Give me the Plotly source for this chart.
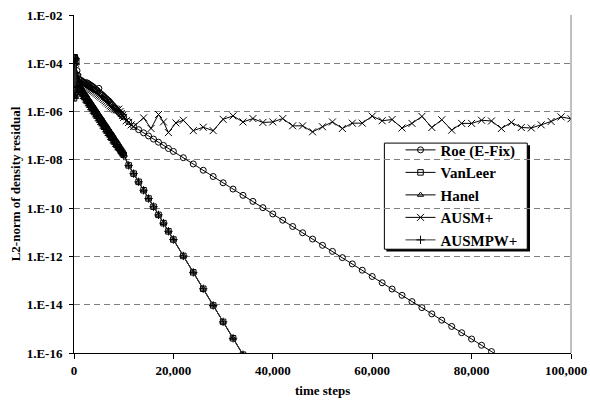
import plotly.graph_objects as go

# ---------------- data (values given as log10 of the L2 norm) ----------------
early_x = [0, 150, 300, 450, 600, 750, 1000, 1250, 1500, 1750, 2000, 2250, 2500, 2750, 3000,
           3250, 3500, 3750, 4000, 4250, 4500, 4750, 5000, 5250, 5500, 5750, 6000, 6250, 6500,
           6750, 7000, 7250, 7500, 7750, 8000, 8250, 8500, 8750, 9000, 9250, 9500, 9750, 10000]

roe_x = early_x + [11000, 12000, 13000, 14000, 15000, 16000, 17000, 18000, 19000, 20000,
                   22000, 24000, 26000, 28000, 30000, 32000, 34000, 36000, 38000, 40000,
                   42000, 44000, 46000, 48000, 50000, 52000, 54000, 56000, 58000, 60000,
                   62000, 64000, 66000, 68000, 70000, 72000, 74000, 76000, 78000, 80000,
                   82000, 84000, 86000]
roe_log = [-3.75, -5.30, -3.80, -4.60, -4.30, -4.50, -4.65, -4.70, -4.72, -4.76, -4.80, -4.84,
           -4.80, -4.83, -4.86, -4.90, -4.93, -4.97, -5.01, -5.06, -5.10, -5.15, -5.04, -5.24,
           -5.28, -5.33, -5.38, -5.43, -5.47, -5.52, -5.56, -5.62, -5.68, -5.74, -5.80, -5.86,
           -5.91, -5.97, -6.02, -6.07, -6.12, -6.17, -6.22,
           -6.42, -6.62, -6.75, -6.88, -7.01, -7.14, -7.27, -7.40, -7.53, -7.65,
           -7.91, -8.17, -8.43, -8.69, -8.95, -9.21, -9.47, -9.72, -9.98, -10.24,
           -10.50, -10.76, -11.02, -11.28, -11.54, -11.79, -12.05, -12.31, -12.57, -12.83,
           -13.09, -13.35, -13.61, -13.87, -14.12, -14.38, -14.64, -14.90, -15.16, -15.42,
           -15.68, -15.94, -16.20]

fast_x = early_x + [11000, 12000, 13000, 14000, 15000, 16000, 17000, 18000, 19000, 20000,
                    22000, 24000, 26000, 28000, 30000, 32000, 34000]
vanleer_log = [-5.45, -3.75, -5.20, -3.90, -4.80, -4.90, -5.02, -5.09, -5.17, -5.25, -5.33,
               -5.40, -5.48, -5.56, -5.63, -5.71, -5.79, -5.86, -5.94, -6.02, -6.09, -6.17,
               -6.25, -6.33, -6.40, -6.48, -6.56, -6.63, -6.71, -6.79, -6.86, -6.94, -7.02,
               -7.09, -7.17, -7.25, -7.32, -7.40, -7.48, -7.55, -7.63, -7.71, -7.79,
               -8.23, -8.57, -8.91, -9.26, -9.60, -9.94, -10.28, -10.62, -10.96, -11.30,
               -11.98, -12.66, -13.34, -14.03, -14.71, -15.39, -16.07]
hanel_log = [-5.30, -3.80, -5.40, -4.00, -4.90, -4.85, -4.88, -4.99, -5.02, -5.13, -5.19,
             -5.28, -5.33, -5.44, -5.49, -5.59, -5.65, -5.74, -5.80, -5.90, -5.95, -6.05,
             -6.11, -6.21, -6.26, -6.36, -6.42, -6.51, -6.57, -6.67, -6.72, -6.82, -6.88,
             -6.97, -7.04, -7.13, -7.20, -7.30, -7.37, -7.46, -7.54, -7.64, -7.74,
             -8.23, -8.57, -8.91, -9.26, -9.60, -9.94, -10.28, -10.62, -10.96, -11.30,
             -11.98, -12.66, -13.34, -14.03, -14.71, -15.39, -16.07]
ausmpw_log = [-4.00, -5.40, -3.80, -5.20, -4.95, -5.00, -5.15, -5.20, -5.30, -5.36, -5.46,
              -5.51, -5.61, -5.67, -5.76, -5.82, -5.92, -5.97, -6.07, -6.13, -6.22, -6.28,
              -6.38, -6.44, -6.53, -6.59, -6.69, -6.74, -6.84, -6.90, -6.99, -7.05, -7.15,
              -7.20, -7.30, -7.35, -7.44, -7.49, -7.58, -7.62, -7.71, -7.76, -7.84,
              -8.23, -8.57, -8.91, -9.26, -9.60, -9.94, -10.28, -10.62, -10.96, -11.30,
              -11.98, -12.66, -13.34, -14.03, -14.71, -15.39, -16.07]

ausm_x = early_x + [10500, 11000, 11500, 12000, 14000, 15500, 17000, 18000, 19000, 20500,
                    22000, 24000, 26000, 28000, 30000, 32000, 34000, 36000, 38000, 40000,
                    42000, 44000, 46000, 48000, 50000, 52000, 54000, 56000, 58000, 60000,
                    62000, 64000, 66000, 68000, 70000, 72000, 74000, 76000, 78000, 80000,
                    82000, 84000, 86000, 88000, 90000, 92000, 94000, 96000, 98000, 100000]
ausm_log = [-3.80, -5.00, -4.00, -4.50, -4.55, -4.60, -4.75, -4.80, -4.85, -4.88, -4.92, -4.95,
            -4.98, -5.02, -5.05, -5.08, -5.10, -5.13, -5.16, -5.20, -5.24, -5.28, -5.32, -5.36,
            -5.40, -5.45, -5.50, -5.55, -5.60, -5.65, -5.70, -5.76, -5.80, -5.84, -5.88, -5.90,
            -5.92, -5.94, -5.90, -6.00, -6.08, -6.16, -6.24,
            -6.38, -6.45, -6.55, -6.62, -6.26, -6.70, -6.12, -6.43, -6.87, -6.47,
            -6.36, -6.79, -6.65, -6.79, -6.32, -6.18, -6.43, -6.29, -6.45, -6.43,
            -6.29, -6.59, -6.59, -6.84, -6.63, -6.43, -6.70, -6.48, -6.48, -6.19,
            -6.38, -6.33, -6.68, -6.49, -6.20, -6.66, -6.34, -6.77, -6.49, -6.49,
            -6.36, -6.39, -6.70, -6.45, -6.66, -6.68, -6.55, -6.41, -6.22, -6.30]

y_tickvals = [1e-2, 1e-4, 1e-6, 1e-8, 1e-10, 1e-12, 1e-14, 1e-16]
y_ticktext = ["1.E-02", "1.E-04", "1.E-06", "1.E-08", "1.E-10", "1.E-12", "1.E-14", "1.E-16"]
x_tickvals = [0, 20000, 40000, 60000, 80000, 100000]
x_ticktext = ["0", "20,000", "40,000", "60,000", "80,000", ""]
x_last_label = "100,000"

# ---------------- figure ----------------
FONT = "Liberation Serif"
fig = go.Figure()


def add(name, x, logs, symbol, size, lcolor="black"):
    fig.add_trace(go.Scatter(
        x=x, y=[10 ** v for v in logs], name=name, mode="lines+markers",
        line=dict(color=lcolor, width=1),
        marker=dict(symbol=symbol, size=size, color="black", line=dict(width=1, color="black")),
    ))


add("Roe (E-Fix)", roe_x, roe_log, "circle-open", 6)
add("VanLeer", fast_x, vanleer_log, "square-open", 5.5)
add("Hanel", fast_x, hanel_log, "triangle-up-open", 5.5)
add("AUSM+", ausm_x, ausm_log, "x-thin-open", 7)
add("AUSMPW+", fast_x, ausmpw_log, "cross-thin-open", 6, "#333333")

fig.update_layout(
    width=590, height=400,
    margin=dict(l=74, r=19, t=15, b=47, autoexpand=False),
    paper_bgcolor="white", plot_bgcolor="white",
    font=dict(family=FONT, size=13, color="black", weight="bold"),
    showlegend=True,
    legend=dict(x=0.657, y=0.649, xanchor="left", yanchor="top",
                bgcolor="rgba(0,0,0,0)", borderwidth=0,
                font=dict(family=FONT, size=15, color="black", weight="bold")),
    xaxis=dict(range=[0, 100000], tickvals=x_tickvals, ticktext=x_ticktext, automargin=False,
               showgrid=False, zeroline=False, showline=True, linecolor="black", linewidth=1,
               ticks="outside", ticklen=5, tickcolor="black",
               tickfont=dict(family=FONT, size=13, weight="bold")),
    yaxis=dict(type="log", range=[-16, -2], tickvals=y_tickvals, ticktext=y_ticktext,
               automargin=False,
               showgrid=True, gridcolor="#7f7f7f", gridwidth=1, griddash="6px,4px",
               zeroline=False, showline=True, linecolor="black", linewidth=1,
               ticks="outside", ticklen=4, tickcolor="black", ticklabelstandoff=4,
               tickfont=dict(family=FONT, size=13, weight="bold")),
    annotations=[
        dict(text=x_last_label, xref="paper", yref="paper", x=1.036, y=-0.052,
             xanchor="right", yanchor="middle", showarrow=False,
             font=dict(family=FONT, size=13, weight="bold")),
        dict(text="time steps", xref="paper", yref="paper", x=0.5, y=-0.11,
             xanchor="center", yanchor="middle", showarrow=False,
             font=dict(family=FONT, size=13, weight="bold")),
        dict(text="L2-norm of density residual", xref="paper", yref="paper", x=-0.118, y=0.5,
             xanchor="center", yanchor="middle", textangle=-90, showarrow=False,
             font=dict(family=FONT, size=13, weight="bold")),
    ],
    shapes=[
        dict(type="line", xref="paper", yref="paper", x0=1, x1=1, y0=0, y1=1,
             line=dict(color="#808080", width=1)),
        dict(type="rect", xref="paper", yref="paper", x0=0.6285, x1=0.9175, y0=0.300, y1=0.615,
             fillcolor="black", line=dict(width=0), layer="between"),
        dict(type="rect", xref="paper", yref="paper", x0=0.6245, x1=0.912, y0=0.307, y1=0.621,
             fillcolor="white", line=dict(color="black", width=1), layer="between"),
    ],
)

fig.write_html("out.html")
